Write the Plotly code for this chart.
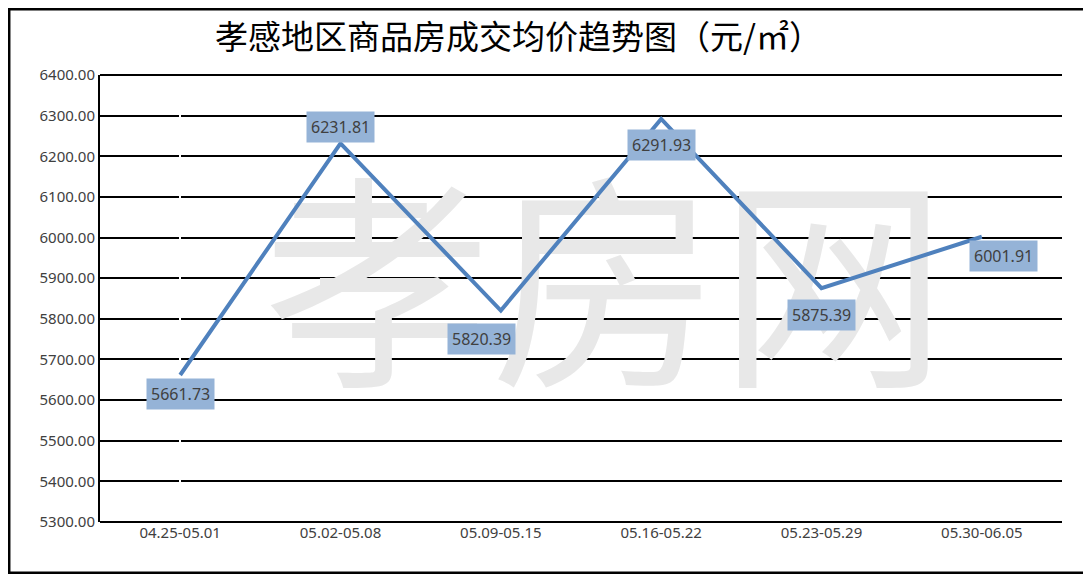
import plotly.graph_objects as go

categories = ["04.25-05.01", "05.02-05.08", "05.09-05.15", "05.16-05.22", "05.23-05.29", "05.30-06.05"]
values = [5661.73, 6231.81, 5820.39, 6291.93, 5875.39, 6001.91]
label_texts = ["5661.73", "6231.81", "5820.39", "6291.93", "5875.39", "6001.91"]
label_dx = [0, 0, -19, 0, 0, 22]
label_dy = [19, -16, 28, 26, 27, 19]
yticks = [5300 + 100 * i for i in range(12)]

W, H = 1083, 566
L, R, T, B = 92, 29, 67, 52

fig = go.Figure()
fig.add_trace(go.Scatter(x=[2.65], y=[5815], mode="text", text=["孝房网"], hoverinfo="skip",
                         textfont=dict(family="Noto Sans CJK SC", size=228, color="#E8E8E8")))
fig.add_trace(go.Scatter(x=list(range(len(categories))), y=values, mode="lines",
                         line=dict(color="#4F81BD", width=4), hoverinfo="skip"))

for i, (v, t, dx, dy) in enumerate(zip(values, label_texts, label_dx, label_dy)):
    fig.add_annotation(x=i, y=v, text=t, showarrow=True, arrowcolor="rgba(0,0,0,0)",
                       ax=dx, ay=dy, bgcolor="#95B3D7", borderpad=4,
                       font=dict(family="Noto Sans", size=16, color="#404040"))

fig.add_annotation(xref="paper", yref="paper", x=0.435, y=1.0, yanchor="bottom", yshift=14,
                   text="孝感地区商品房成交均价趋势图（元/㎡）", showarrow=False,
                   font=dict(family="Noto Sans CJK SC", size=33, color="#000000"))

fig.update_layout(
    width=W, height=H, paper_bgcolor="white", plot_bgcolor="white",
    margin=dict(l=L, r=R, t=T, b=B), showlegend=False,
    xaxis=dict(showgrid=False, showline=False, ticks="", range=[-0.5, 5.5],
               tickvals=list(range(len(categories))), ticktext=categories,
               tickfont=dict(family="Noto Sans", size=15, color="#404040")),
    yaxis=dict(range=[5300, 6400], tickvals=yticks, ticktext=[f"{v:.2f}" for v in yticks],
               showgrid=True, gridcolor="black", gridwidth=2, zeroline=False,
               showline=True, linecolor="black", linewidth=2,
               tickfont=dict(family="Noto Sans", size=15, color="#404040")),
)
fig.add_shape(type="line", xref="paper", yref="paper", x0=0, x1=1, y0=0, y1=0, line=dict(color="black", width=2))
fig.add_shape(type="line", xref="paper", yref="paper", x0=0, x1=1, y0=1, y1=1, line=dict(color="black", width=2))
pw, ph = W - L - R, H - T - B
fig.add_shape(type="rect", xref="paper", yref="paper", x0=-L / pw + 0.001, x1=1 + R / pw - 0.001,
              y0=-B / ph + 0.002, y1=1 + T / ph - 0.002, line=dict(color="black", width=3))
fig.write_html("out.html")
